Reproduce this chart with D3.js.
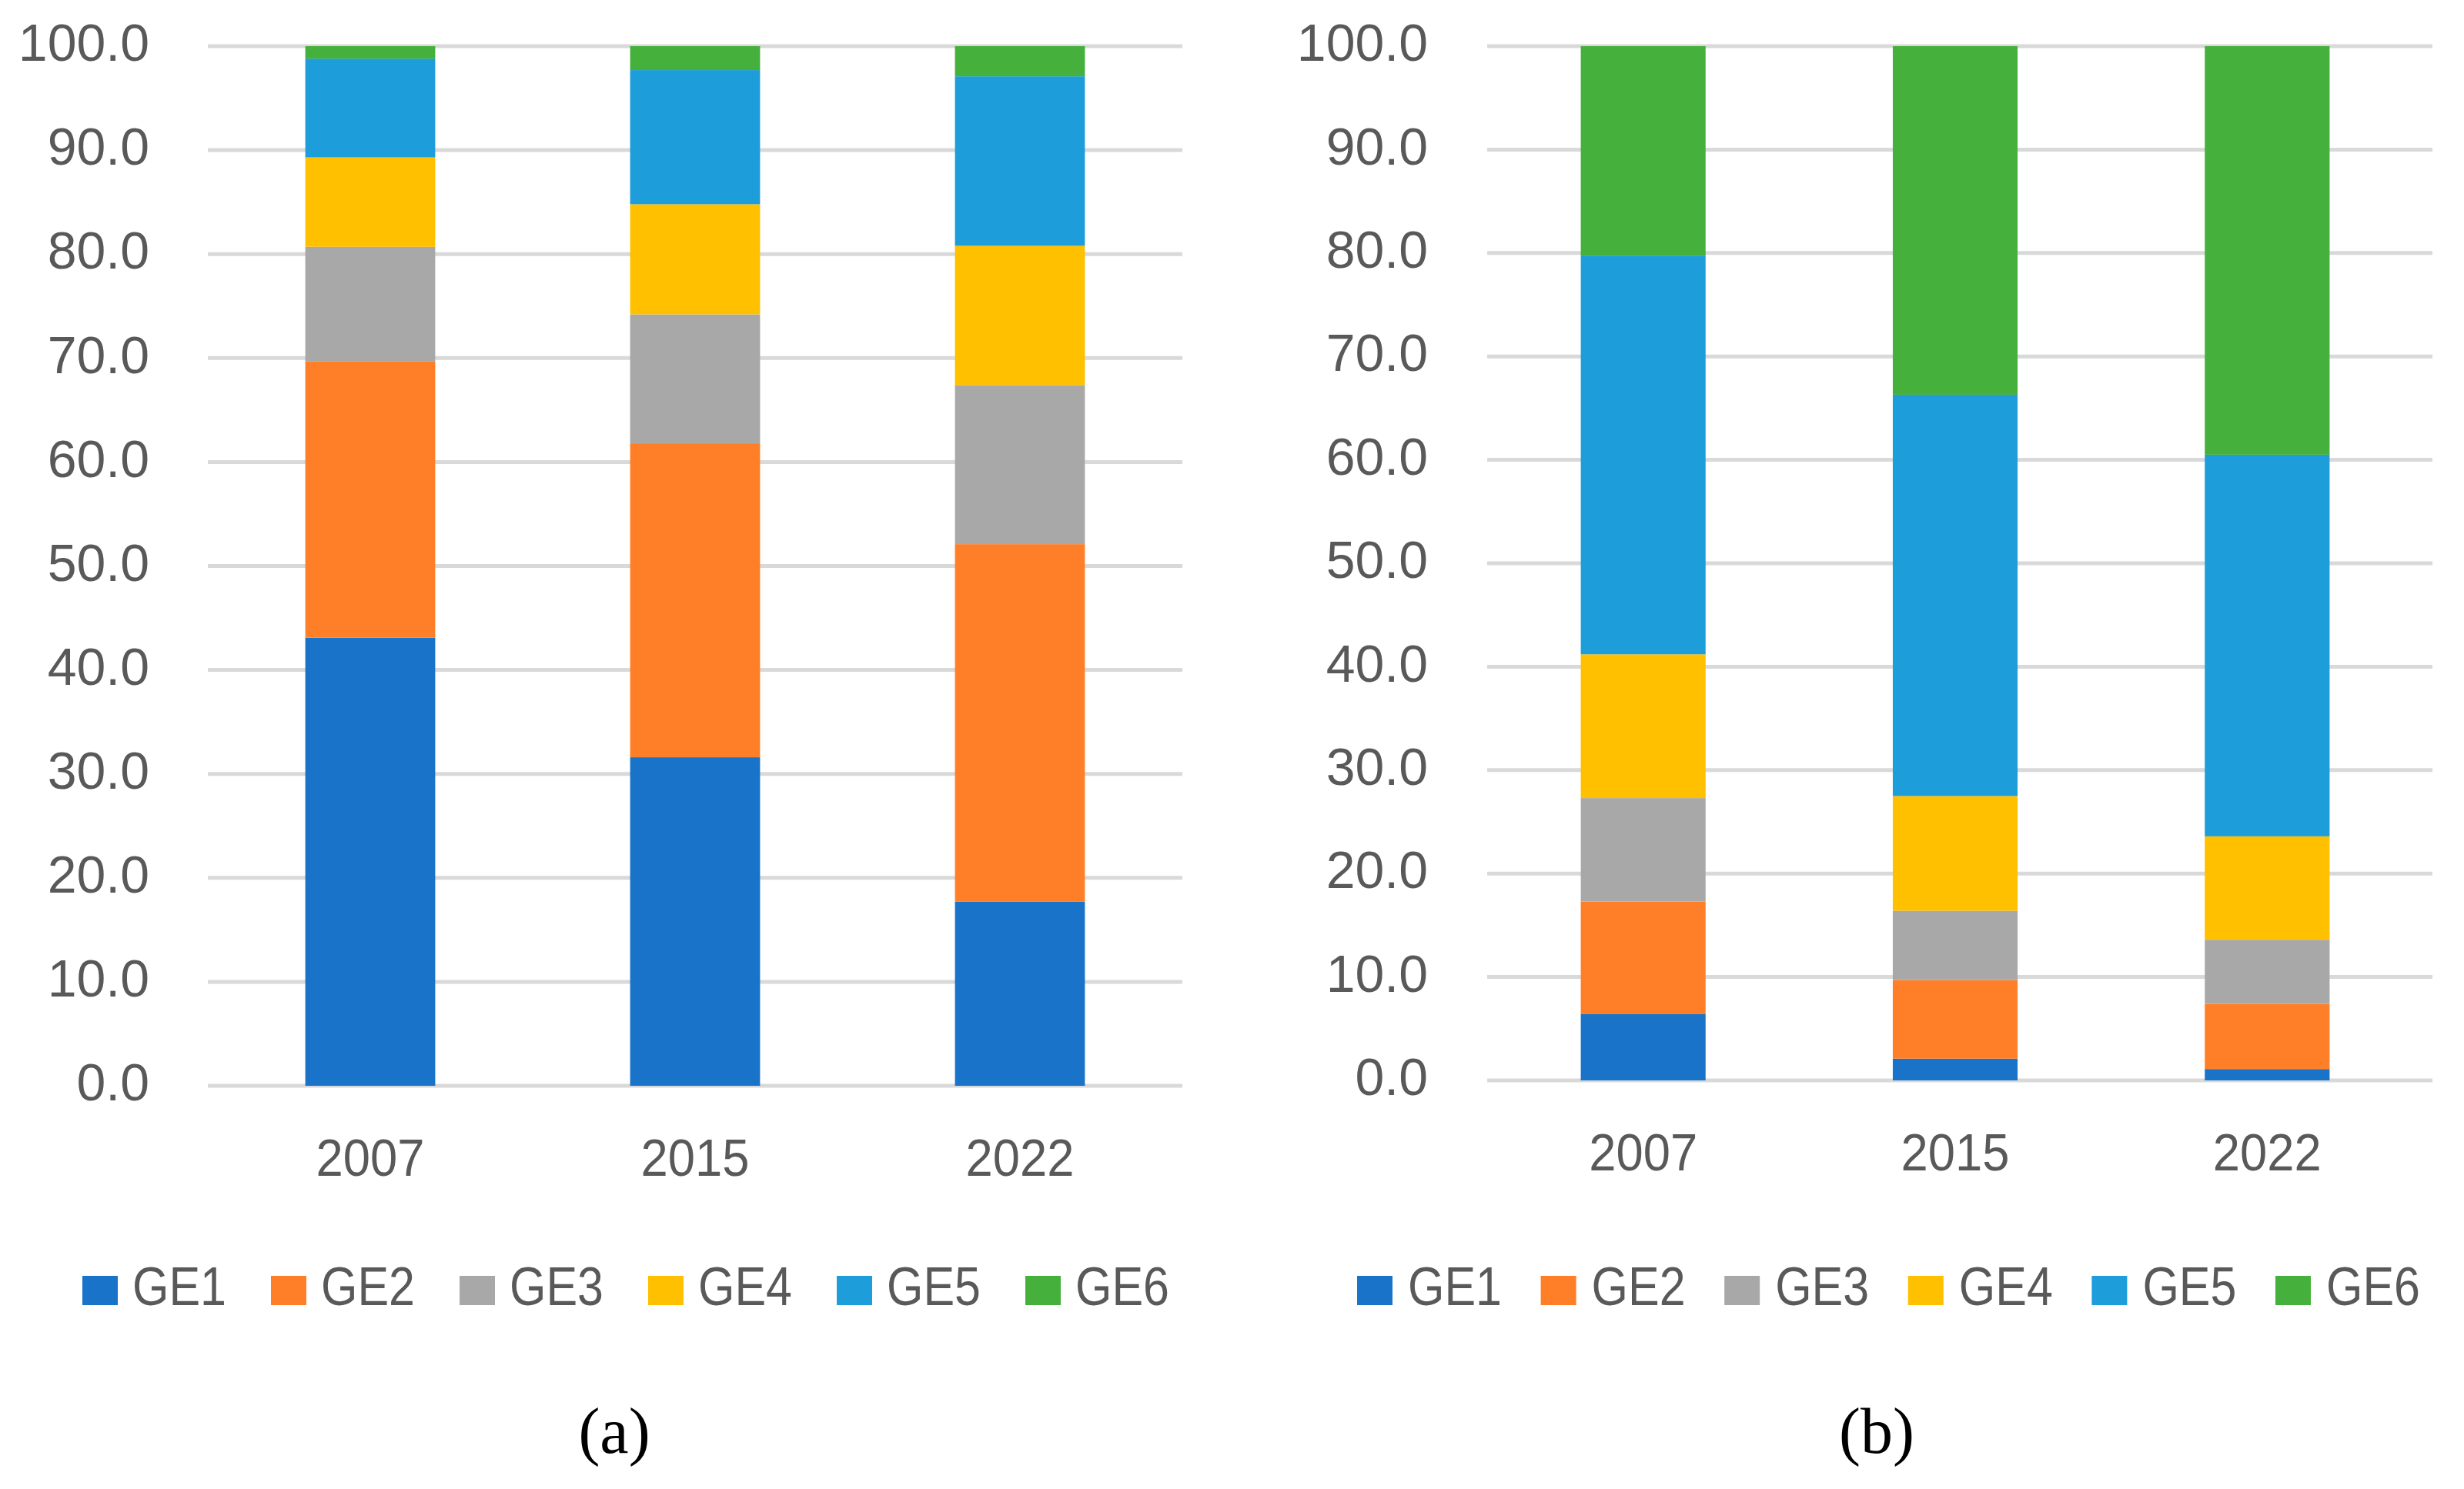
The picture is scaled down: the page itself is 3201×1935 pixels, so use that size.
<!DOCTYPE html>
<html>
<head>
<meta charset="utf-8">
<script src="https://cdn.jsdelivr.net/npm/d3@7/dist/d3.min.js"></script>
<style>
  html, body { margin: 0; padding: 0; background: #ffffff; }
  svg { display: block; }
</style>
</head>
<body>
<svg id="chart" width="3201" height="1935"></svg>
<script>
// ---------- DATA ----------
const years = ["2007", "2015", "2022"];
const seriesNames = ["GE1", "GE2", "GE3", "GE4", "GE5", "GE6"];
const seriesColors = ["#1873C9", "#FF7F28", "#A8A8A8", "#FFC000", "#1D9DD9", "#45B03B"];
const yTicks = [0, 10, 20, 30, 40, 50, 60, 70, 80, 90, 100];

// panel (a): share per year, one array per series (2007, 2015, 2022)
const a_GE1 = [43.1, 31.6, 17.7];
const a_GE2 = [26.6, 30.2, 34.4];
const a_GE3 = [11.0, 12.4, 15.3];
const a_GE4 = [8.6, 10.6, 13.4];
const a_GE5 = [9.5, 12.9, 16.3];
const a_GE6 = [1.2, 2.3, 2.9];

// panel (b)
const b_GE1 = [6.4, 2.1, 1.1];
const b_GE2 = [10.9, 7.6, 6.3];
const b_GE3 = [10.0, 6.7, 6.2];
const b_GE4 = [13.9, 11.1, 10.0];
const b_GE5 = [38.55, 38.8, 36.9];
const b_GE6 = [20.25, 33.7, 39.5];

const panelLabels = ["(a)", "(b)"];

// ---------- BUILD ----------
function table(arrs) {
  return years.map((y, i) => {
    const row = { year: y };
    seriesNames.forEach((s, k) => { row[s] = arrs[k][i]; });
    return row;
  });
}
const dataA = table([a_GE1, a_GE2, a_GE3, a_GE4, a_GE5, a_GE6]);
const dataB = table([b_GE1, b_GE2, b_GE3, b_GE4, b_GE5, b_GE6]);

const svg = d3.select("#chart");
const color = d3.scaleOrdinal().domain(seriesNames).range(seriesColors);
const FONT = "'Liberation Sans', Arial, sans-serif";
const TXT = "#595959";

const panels = [
  { data: dataA, x0: 270, x1: 1536, gx1: 1536, y0: 1411, y1: 60, labelRight: 194, yearBase: 1528,
    legX: 107, legStep: 245, legTextOff: 65, label: panelLabels[0], labelX: 798 },
  { data: dataB, x0: 1932, x1: 3148, gx1: 3160, y0: 1404, y1: 60, labelRight: 1855, yearBase: 1521,
    legX: 1763, legStep: 238.6, legTextOff: 66, label: panelLabels[1], labelX: 2438 }
];

panels.forEach(p => {
  const g = svg.append("g");
  const x = d3.scaleBand().domain(years).range([p.x0, p.x1]).paddingInner(0.6).paddingOuter(0.3);
  const y = d3.scaleLinear().domain([0, 100]).range([p.y0, p.y1]);

  // gridlines
  g.append("g").selectAll("line").data(yTicks).join("line")
    .attr("x1", p.x0).attr("x2", p.gx1)
    .attr("y1", d => y(d)).attr("y2", d => y(d))
    .attr("stroke", "#D9D9D9").attr("stroke-width", 5);

  // y axis labels
  const yAxis = d3.axisLeft(y).tickValues(yTicks).tickFormat(d3.format(".1f")).tickSize(0).tickPadding(0);
  const ya = g.append("g").attr("transform", `translate(${p.labelRight},0)`).call(yAxis);
  ya.select(".domain").remove();
  ya.selectAll("text")
    .attr("fill", TXT).attr("font-family", FONT).attr("font-size", 68)
    .attr("dy", "0.32em").attr("transform", "translate(0,-3)");

  // stacked bars
  const stack = d3.stack().keys(seriesNames)(p.data);
  g.append("g").selectAll("g").data(stack).join("g")
    .attr("fill", d => color(d.key))
    .selectAll("rect").data(d => d).join("rect")
      .attr("x", d => x(d.data.year))
      .attr("width", x.bandwidth())
      .attr("y", d => y(d[1]))
      .attr("height", d => y(d[0]) - y(d[1]));

  // x axis labels
  const xAxis = d3.axisBottom(x).tickSize(0).tickPadding(0);
  const xa = g.append("g").attr("transform", `translate(0,${p.yearBase})`).call(xAxis);
  xa.select(".domain").remove();
  xa.selectAll("text")
    .attr("fill", TXT).attr("font-family", FONT).attr("font-size", 68)
    .attr("dy", 0).attr("y", 0)
    .attr("textLength", 141).attr("lengthAdjust", "spacingAndGlyphs");

  // legend
  const leg = g.append("g").selectAll("g").data(seriesNames).join("g")
    .attr("transform", (d, i) => `translate(${p.legX + i * p.legStep},0)`);
  leg.append("rect").attr("x", 0).attr("y", 1658).attr("width", 46).attr("height", 38)
    .attr("fill", d => color(d));
  leg.append("text").attr("x", p.legTextOff).attr("y", 1696)
    .attr("fill", TXT).attr("font-family", FONT).attr("font-size", 70)
    .attr("textLength", 122).attr("lengthAdjust", "spacingAndGlyphs")
    .text(d => d);

  // panel label
  g.append("text").attr("x", p.labelX).attr("y", 1888)
    .attr("text-anchor", "middle")
    .attr("font-family", "'Liberation Serif', 'Times New Roman', serif")
    .attr("font-size", 84).attr("fill", "#000")
    .text(p.label);
});
</script>
</body>
</html>
